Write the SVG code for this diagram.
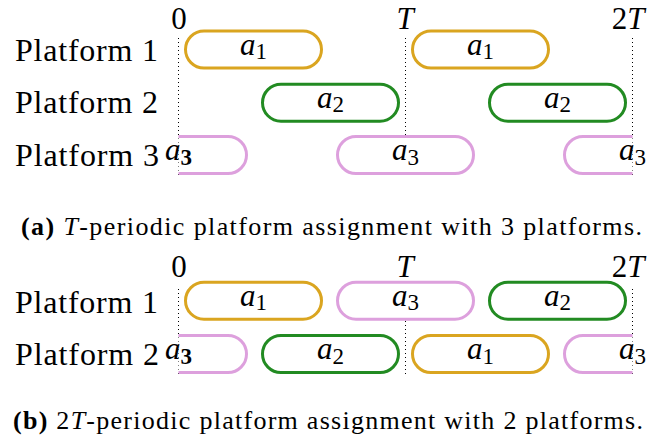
<svg xmlns="http://www.w3.org/2000/svg" width="648" height="443" viewBox="0 0 648 443">
<defs>
<style>
.lbl{font-family:"Liberation Serif","DejaVu Serif",serif;font-size:31px;fill:#000}
.pl{font-size:32px}
.it{font-style:italic}
.sub{font-size:23px;font-style:normal}
.cap{font-family:"Liberation Serif","DejaVu Serif",serif;font-size:26px;fill:#000}
.bar{fill:#fff;stroke-width:3}
.g1{stroke:#DAA520}
.g2{stroke:#228B22}
.g3{stroke:#DDA0DD}
.guide{stroke:#000;stroke-width:1;stroke-dasharray:1 3}
</style>
<clipPath id="clip"><rect x="178.5" y="0" width="454" height="443"/></clipPath>
</defs>
<rect width="648" height="443" fill="#fff"/>

<!-- Panel (a) -->
<g id="axis-a">
<text class="lbl" x="179" y="29" text-anchor="middle">0</text>
<text class="lbl it" x="405" y="29" text-anchor="middle">T</text>
<text class="lbl" x="628" y="29" text-anchor="middle">2<tspan class="it">T</tspan></text>
</g>
<g id="guides-a">
<line class="guide" x1="178.5" y1="38" x2="178.5" y2="175"/>
<line class="guide" x1="405.5" y1="38" x2="405.5" y2="175"/>
<line class="guide" x1="632.5" y1="38" x2="632.5" y2="175"/>
</g>
<g id="platform-labels-a">
<text class="lbl pl" x="15" y="61" textLength="143" lengthAdjust="spacing">Platform 1</text>
<text class="lbl pl" x="15" y="113" textLength="143" lengthAdjust="spacing">Platform 2</text>
<text class="lbl pl" x="15" y="166" textLength="144" lengthAdjust="spacing">Platform 3</text>
</g>
<g id="a-p1-a1-0">
<rect class="bar g1" x="185.5" y="31" width="136" height="37" rx="18.5"/>
<text class="lbl it" x="253.5" y="54.5" text-anchor="middle">a<tspan class="sub" dy="4.5">1</tspan></text>
</g>
<g id="a-p1-a1-1">
<rect class="bar g1" x="412.5" y="31" width="136" height="37" rx="18.5"/>
<text class="lbl it" x="480.5" y="54.5" text-anchor="middle">a<tspan class="sub" dy="4.5">1</tspan></text>
</g>
<g id="a-p2-a2-0">
<rect class="bar g2" x="262.5" y="84.2" width="136" height="37" rx="18.5"/>
<text class="lbl it" x="330.5" y="107.7" text-anchor="middle">a<tspan class="sub" dy="4.5">2</tspan></text>
</g>
<g id="a-p2-a2-1">
<rect class="bar g2" x="489.5" y="84.2" width="136" height="37" rx="18.5"/>
<text class="lbl it" x="557.5" y="107.7" text-anchor="middle">a<tspan class="sub" dy="4.5">2</tspan></text>
</g>
<g id="a-p3-a3-0" clip-path="url(#clip)">
<rect class="bar g3" x="110.5" y="136.5" width="136" height="37" rx="18.5"/>
</g>
<g id="a-p3-a3-0-label">
<text class="lbl it" x="178.5" y="160" text-anchor="middle">a<tspan class="sub" dy="4.5" font-weight="bold">3</tspan></text>
</g>
<g id="a-p3-a3-1">
<rect class="bar g3" x="337.5" y="136.5" width="136" height="37" rx="18.5"/>
<text class="lbl it" x="405.5" y="160" text-anchor="middle">a<tspan class="sub" dy="4.5">3</tspan></text>
</g>
<g id="a-p3-a3-2" clip-path="url(#clip)">
<rect class="bar g3" x="564.5" y="136.5" width="136" height="37" rx="18.5"/>
</g>
<g id="a-p3-a3-2-label">
<text class="lbl it" x="632.5" y="160" text-anchor="middle">a<tspan class="sub" dy="4.5">3</tspan></text>
</g>
<g id="caption-a">
<text class="cap" x="21" y="235" textLength="621" lengthAdjust="spacing"><tspan font-weight="bold">(a)</tspan> <tspan font-style="italic">T</tspan>-periodic platform assignment with 3 platforms.</text>
</g>

<!-- Panel (b) -->
<g id="axis-b">
<text class="lbl" x="179" y="277" text-anchor="middle">0</text>
<text class="lbl it" x="405" y="277" text-anchor="middle">T</text>
<text class="lbl" x="628" y="277" text-anchor="middle">2<tspan class="it">T</tspan></text>
</g>
<g id="guides-b">
<line class="guide" x1="178.5" y1="289" x2="178.5" y2="374"/>
<line class="guide" x1="405.5" y1="289" x2="405.5" y2="374"/>
<line class="guide" x1="632.5" y1="289" x2="632.5" y2="374"/>
</g>
<g id="platform-labels-b">
<text class="lbl pl" x="15" y="313" textLength="143" lengthAdjust="spacing">Platform 1</text>
<text class="lbl pl" x="15" y="365" textLength="144" lengthAdjust="spacing">Platform 2</text>
</g>
<g id="b-p1-a1">
<rect class="bar g1" x="185.5" y="282.2" width="136" height="37" rx="18.5"/>
<text class="lbl it" x="253.5" y="305.7" text-anchor="middle">a<tspan class="sub" dy="4.5">1</tspan></text>
</g>
<g id="b-p1-a3">
<rect class="bar g3" x="337.5" y="282.2" width="136" height="37" rx="18.5"/>
<text class="lbl it" x="405.5" y="305.7" text-anchor="middle">a<tspan class="sub" dy="4.5">3</tspan></text>
</g>
<g id="b-p1-a2">
<rect class="bar g2" x="489.5" y="282.2" width="136" height="37" rx="18.5"/>
<text class="lbl it" x="557.5" y="305.7" text-anchor="middle">a<tspan class="sub" dy="4.5">2</tspan></text>
</g>
<g id="b-p2-a3-0" clip-path="url(#clip)">
<rect class="bar g3" x="110.5" y="335.5" width="136" height="37" rx="18.5"/>
</g>
<g id="b-p2-a3-0-label">
<text class="lbl it" x="178.5" y="359" text-anchor="middle">a<tspan class="sub" dy="4.5" font-weight="bold">3</tspan></text>
</g>
<g id="b-p2-a2">
<rect class="bar g2" x="262.5" y="335.5" width="136" height="37" rx="18.5"/>
<text class="lbl it" x="330.5" y="359" text-anchor="middle">a<tspan class="sub" dy="4.5">2</tspan></text>
</g>
<g id="b-p2-a1">
<rect class="bar g1" x="412.5" y="335.5" width="136" height="37" rx="18.5"/>
<text class="lbl it" x="480.5" y="359" text-anchor="middle">a<tspan class="sub" dy="4.5">1</tspan></text>
</g>
<g id="b-p2-a3-2" clip-path="url(#clip)">
<rect class="bar g3" x="564.5" y="335.5" width="136" height="37" rx="18.5"/>
</g>
<g id="b-p2-a3-2-label">
<text class="lbl it" x="632.5" y="359" text-anchor="middle">a<tspan class="sub" dy="4.5">3</tspan></text>
</g>
<g id="caption-b">
<text class="cap" x="13" y="429" textLength="630" lengthAdjust="spacing"><tspan font-weight="bold">(b)</tspan> 2<tspan font-style="italic">T</tspan>-periodic platform assignment with 2 platforms.</text>
</g>
<g id="connectors"/>
</svg>
